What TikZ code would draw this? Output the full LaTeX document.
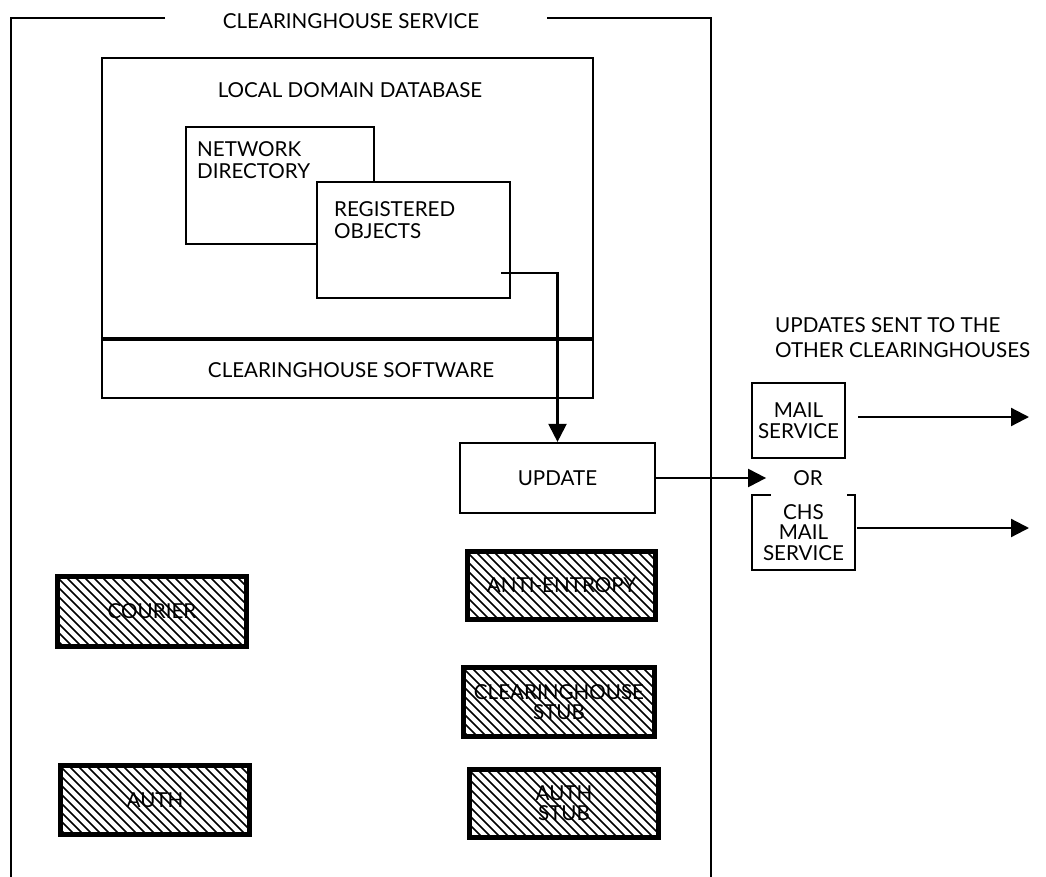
\documentclass[tikz,border=0pt]{standalone}
\usepackage{fontspec}
\setmainfont{Lato}
\usetikzlibrary{arrows.meta}

\begin{document}
\begin{tikzpicture}[x=1pt,y=-1pt,
  font=\fontsize{20.6}{22}\selectfont,
  thinline/.style={line width=2.2pt},
  box/.style={draw, line width=2.2pt, rectangle, inner sep=0pt, fill=white, align=center},
  txt/.style={inner sep=0pt, align=left},
  ctxt/.style={inner sep=0pt, align=center},
  conn/.style={line width=2.2pt, -{Triangle[length=18pt,width=18pt]}},
  hatchbox/.style={draw, line width=5pt, rectangle, inner sep=0pt, align=center,
    path picture={
      \foreach \k in {-100,-91,...,220}
        \draw[line width=1.5pt]
          ([xshift=\k pt]path picture bounding box.north west) -- ++(110,110);
    }},
]
\useasboundingbox (0,0) rectangle (1046,877);

% outer frame of the service
\node[ctxt] (title) at (351,21) {CLEARINGHOUSE SERVICE};
\draw[thinline] (165,18) -- (11,18) -- (11,877);
\draw[thinline] (547,18) -- (711,18) -- (711,877);

% local domain database with the software layer beneath
\node[box, minimum width=491, minimum height=340] (db) at (347.5,228) {};
\draw[line width=4.5pt] (db.west |- 0,339) -- (db.east |- 0,339);
\node[ctxt] (dbt) at (350,90) {LOCAL DOMAIN DATABASE};
\node[ctxt] (sw) at (351,370) {CLEARINGHOUSE SOFTWARE};

% overlapping directory and registered objects
\node[box, minimum width=188, minimum height=117] (nd) at (280,185.5) {};
\node[txt, anchor=north west] (ndt) at (197,141) {NETWORK\\DIRECTORY};
\node[box, minimum width=193, minimum height=116] (ro) at (413.5,240) {};
\node[txt, anchor=north west] (rot) at (334,201) {REGISTERED\\OBJECTS};

% update and outgoing services
\node[box, minimum width=195, minimum height=70] (up) at (557.5,478) {UPDATE};
\node[box, minimum width=93, minimum height=75, font=\fontsize{20.6}{20.5}\selectfont] (ms) at (798.5,420.5) {MAIL\\SERVICE};
\node[ctxt, minimum width=103, minimum height=75, font=\fontsize{20.6}{20.5}\selectfont] (chs) at (803.5,532.5) {CHS\\MAIL\\SERVICE};
\draw[thinline] ([xshift=19pt]chs.north west) -- (chs.north west) -- (chs.south west)
  -- (chs.south east) -- (chs.north east) -- ([xshift=-8pt]chs.north east);
\node[ctxt] (or) at (808,478) {OR};
\node[txt, anchor=west, font=\fontsize{20.6}{25}\selectfont] (upd) at (775,337.5) {UPDATES SENT TO THE\\OTHER CLEARINGHOUSES};
\coordinate (msout) at (1029,417);
\coordinate (chsout) at (1029,528);

% inactive components
\node[hatchbox, minimum width=189, minimum height=70] (courier) at (152,611.5) {COURIER};
\node[hatchbox, minimum width=189, minimum height=69] (auth) at (155,800) {AUTH};
\node[hatchbox, minimum width=188, minimum height=68] (ae) at (561.5,585.5) {ANTI-ENTROPY};
\node[hatchbox, minimum width=191, minimum height=69, font=\fontsize{20.6}{20}\selectfont] (chstub) at (559,702) {CLEARINGHOUSE\\STUB};
\node[hatchbox, minimum width=189, minimum height=68, font=\fontsize{20.6}{20}\selectfont] (authstub) at (564,803.5) {AUTH\\STUB};

% connectors
\draw[conn] ([xshift=-10pt,yshift=26pt]ro.south east) -| (up.north);
\draw[conn] (up.east) -- ([xshift=-27pt]or.west);
\draw[conn] ([xshift=12pt]ms.east |- msout) -- (msout);
\draw[conn] ([xshift=2pt]chs.east |- chsout) -- (chsout);
\end{tikzpicture}
\end{document}
